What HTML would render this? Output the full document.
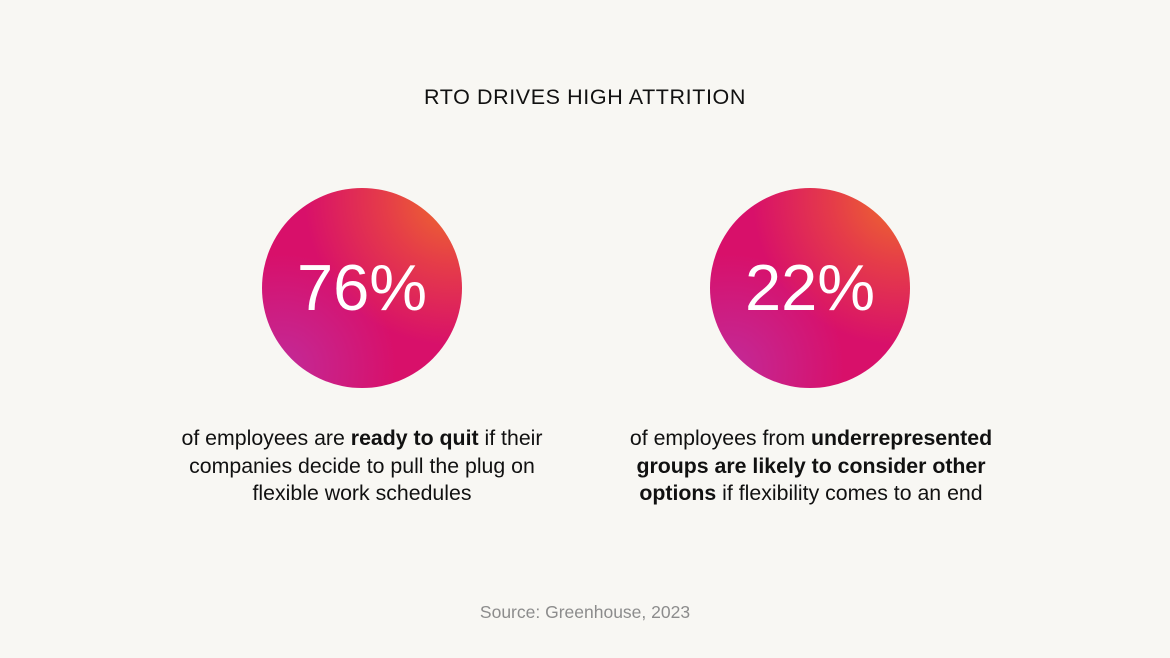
<!DOCTYPE html>
<html><head><style>
body{margin:0;width:1170px;height:658px;background:#f8f7f3;font-family:"Liberation Sans",sans-serif;color:#111;position:relative;overflow:hidden}
.t{position:absolute;top:85px;left:0;width:1170px;text-align:center;font-size:21.5px;letter-spacing:0.6px}
.c{position:absolute;top:188px;width:200px;height:200px;border-radius:50%;
background:radial-gradient(circle at 95% 5%,#ee6a2c 0%,rgba(238,90,50,0.6) 25%,rgba(220,20,90,0) 55%),radial-gradient(circle at 10% 90%,#c22a98 0%,rgba(200,30,140,0) 45%),#d8106a;
color:#fff;font-size:65px;text-align:center;line-height:200px;font-weight:300}
.p{position:absolute;top:425px;width:500px;text-align:center;font-size:21.3px;line-height:27.5px;white-space:nowrap}
.s{position:absolute;top:602px;left:0;width:1170px;text-align:center;font-size:17.5px;color:#8c8c8c}
</style></head><body>
<div class="t">RTO DRIVES HIGH ATTRITION</div>
<div class="c" style="left:262px">76%</div>
<div class="c" style="left:710px">22%</div>
<div class="p" style="left:112px">of employees are <b>ready to quit</b> if their<br>companies decide to pull the plug on<br>flexible work schedules</div>
<div class="p" style="left:561px">of employees from <b>underrepresented</b><br><b>groups are likely to consider other</b><br><b>options</b> if flexibility comes to an end</div>
<div class="s">Source: Greenhouse, 2023</div>
</body></html>
